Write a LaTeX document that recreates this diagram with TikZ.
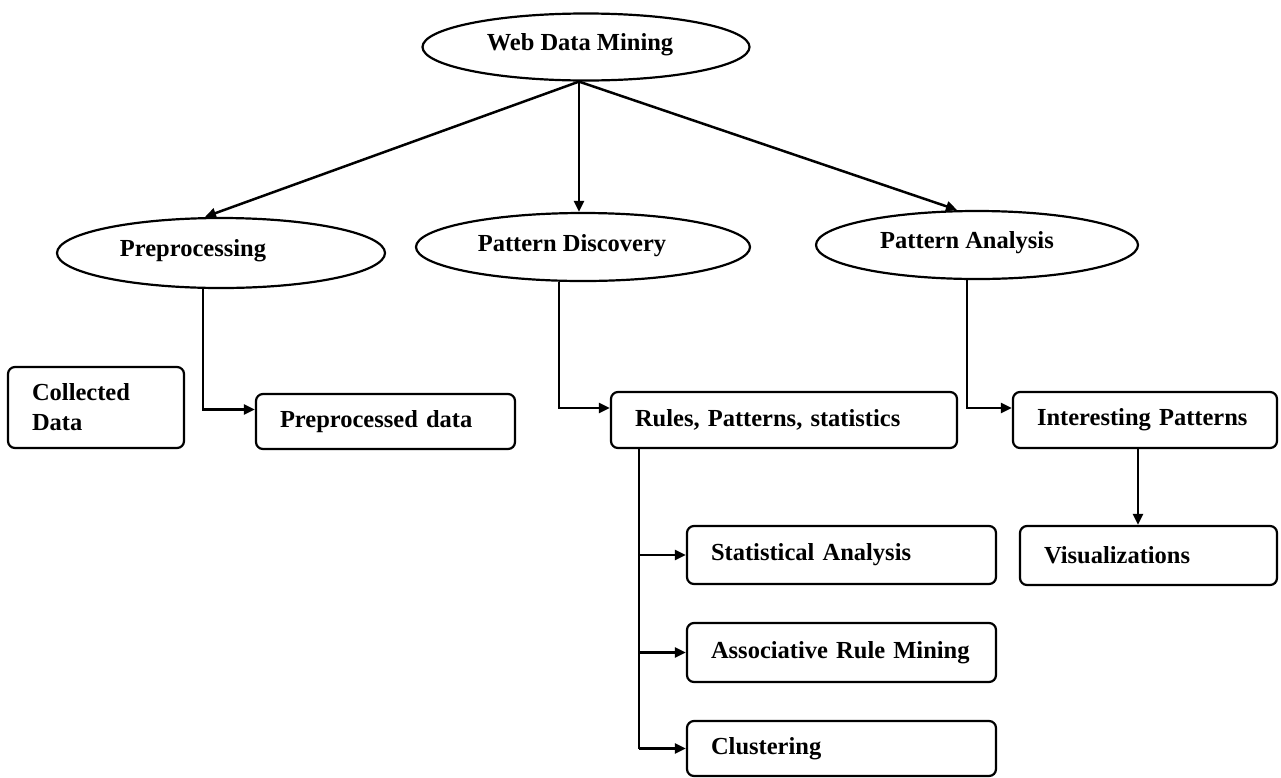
\documentclass[tikz,border=0pt]{standalone}
\usepackage{fontspec}
\setmainfont{Liberation Serif}
\usetikzlibrary{shapes.geometric,arrows.meta,calc}
\begin{document}
\begin{tikzpicture}[x=1pt,y=-1pt,
  font=\bfseries\fontsize{24.5}{30}\selectfont,
  ell/.style={ellipse,draw,line width=2.2pt,inner sep=0pt},
  lbl/.style={inner sep=0pt},
  box/.style={rectangle,draw,line width=2.2pt,rounded corners=7pt,
              inner xsep=24pt,inner ysep=0pt,align=left},
  link/.style={line width=2.5pt},
  arr/.style={link,-{Triangle[length=11pt,width=10pt]}}]
\useasboundingbox (0,0) rectangle (1281,777);

% root and the three stages
\node[ell,minimum width=327pt,minimum height=67pt] (wdm) at (586,47) {};
\node[lbl] (wdmt) at (580,45) {Web Data Mining};
\node[ell,minimum width=328pt,minimum height=70pt] (pre) at (221,253) {};
\node[lbl] (pret) at (193,251) {Preprocessing};
\node[ell,minimum width=334pt,minimum height=68pt] (pd) at (583,247) {};
\node[lbl] (pdt) at (572,246) {Pattern Discovery};
\node[ell,minimum width=322pt,minimum height=68pt] (pa) at (977,245) {};
\node[lbl] (pat) at (967,243) {Pattern Analysis};

% result boxes
\node[box,text width=128pt,minimum height=81pt] (cd) at (96,407.5) {Collected\\Data};
\node[box,text width=211pt,minimum height=55pt] (ppd) at (385.5,421.5) {Preprocessed data};
\node[box,text width=298pt,minimum height=56pt] (rps) at (784,420) {Rules, Patterns, statistics};
\node[box,text width=216pt,minimum height=56pt] (ip) at (1145,420) {Interesting Patterns};
\node[box,text width=261pt,minimum height=58pt] (sa) at (841.5,555) {Statistical Analysis};
\node[box,text width=261pt,minimum height=59pt] (arm) at (841.5,652.5) {Associative Rule Mining};
\node[box,text width=261pt,minimum height=55pt] (cl) at (841.5,748.5) {Clustering};
\node[box,text width=209pt,minimum height=59pt] (vis) at (1148.5,555.5) {Visualizations};

% root to stages
\coordinate (hub) at ($(wdm.south)+(-7,0)$);
\draw[arr] (hub) -- ($(pre.north)+(-16,0)$);
\draw[arr] (hub) -- ($(pd.north)+(-4,0)$);
\draw[arr] (hub) -- ($(pa.north)+(-20,0)$);

% stages to their results
\draw[arr] ($(pre.south)+(-18,0)$) |- ($(ppd.west)+(0,-12)$);
\draw[arr] ($(pd.south)+(-24,0)$) |- ($(rps.west)+(0,-12)$);
\draw[arr] ($(pa.south)+(-10,0)$) |- ($(ip.west)+(0,-12)$);
\draw[arr] ($(ip.south)+(-7,0)$) -- ($(vis.north)+(-10.5,0)$);

% discovery outputs
\coordinate (trunk) at ($(rps.south west)+(29,0)$);
\draw[link] (trunk) -- (cl.west -| trunk);
\draw[arr] (sa.west -| trunk) -- (sa.west);
\draw[arr] (arm.west -| trunk) -- (arm.west);
\draw[arr] (cl.west -| trunk) -- (cl.west);
\end{tikzpicture}
\end{document}
